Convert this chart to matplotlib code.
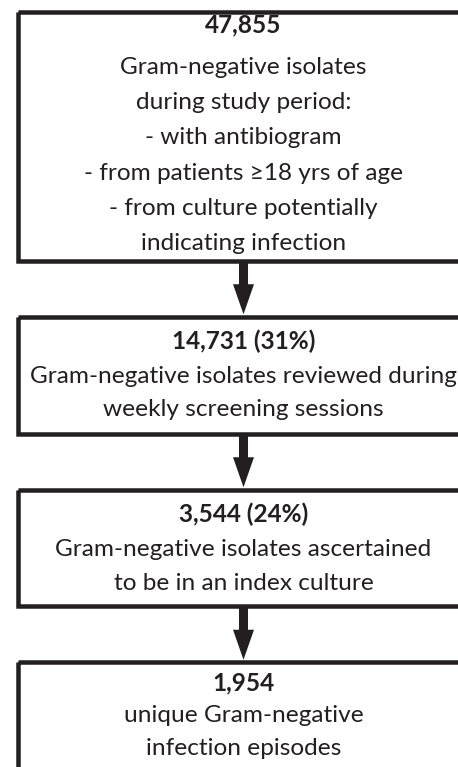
import matplotlib
matplotlib.use("Agg")
import matplotlib.pyplot as plt
from matplotlib.patches import Rectangle, Polygon

# ---- content ----
counts = ["47,855", "14,731 (31%)", "3,544 (24%)", "1,954"]
descriptions = [
    ["Gram-negative isolates", "during study period:", "- with antibiogram",
     "- from patients \u226518 yrs of age", "- from culture potentially",
     "indicating infection"],
    ["Gram-negative isolates reviewed during", "weekly screening sessions"],
    ["Gram-negative isolates ascertained", "to be in an index culture"],
    ["unique Gram-negative", "infection episodes"],
]

# ---- layout (pixel units, y downward) ----
W, H = 458, 767
box_left = 17.5
box_right = 469.5
box_tops = [11.5, 316.5, 489.5, 662.0]
box_bottoms = [260.5, 433.5, 605.5, 800.0]
title_baselines = [32, 349, 522, 690]
line_baselines = [
    [74, 109.2, 144.4, 179.6, 214.8, 250],
    [383, 416],
    [556, 590],
    [722, 755],
]
cx = 243.5
ink = "#231f20"
lw_px = 4.5

fig = plt.figure(figsize=(W / 100, H / 100), dpi=100)
ax = fig.add_axes([0, 0, 1, 1])
ax.set_xlim(0, W)
ax.set_ylim(H, 0)
ax.axis("off")

lw_pt = lw_px * 72 / 100
for top, bot in zip(box_tops, box_bottoms):
    ax.add_patch(Rectangle((box_left, top), box_right - box_left, bot - top,
                           fill=False, edgecolor=ink, linewidth=lw_pt,
                           joinstyle="miter", clip_on=True))

# arrows
shaft_w, head_w, head_h = 9, 21, 30
for i in range(len(box_tops) - 1):
    y0 = box_bottoms[i]
    tip = box_tops[i + 1] - lw_px / 2
    base = tip - head_h
    ax.add_patch(Rectangle((cx - shaft_w / 2, y0), shaft_w, base - y0 + 0.5,
                           facecolor=ink, edgecolor="none"))
    ax.add_patch(Polygon([(cx - head_w / 2, base), (cx + head_w / 2, base), (cx, tip)],
                         closed=True, facecolor=ink, edgecolor="none"))

family = ["Lato", "DejaVu Sans"]

# fit font size so the longest line nearly fills the visible width
fig.canvas.draw()
r = fig.canvas.get_renderer()
probe = ax.text(0, 0, descriptions[1][0], fontsize=10, family=family)
w10 = probe.get_window_extent(renderer=r).width
probe.remove()
fs = 10 * 427 / w10

for i, c in enumerate(counts):
    ax.text(cx, title_baselines[i], c, ha="center", va="baseline",
            fontsize=fs, fontweight="bold", family=family, color=ink)
    for txt, yb in zip(descriptions[i], line_baselines[i]):
        ax.text(cx, yb, txt, ha="center", va="baseline",
                fontsize=fs, family=family, color=ink)

fig.savefig("out.png", dpi=100, facecolor="white")
